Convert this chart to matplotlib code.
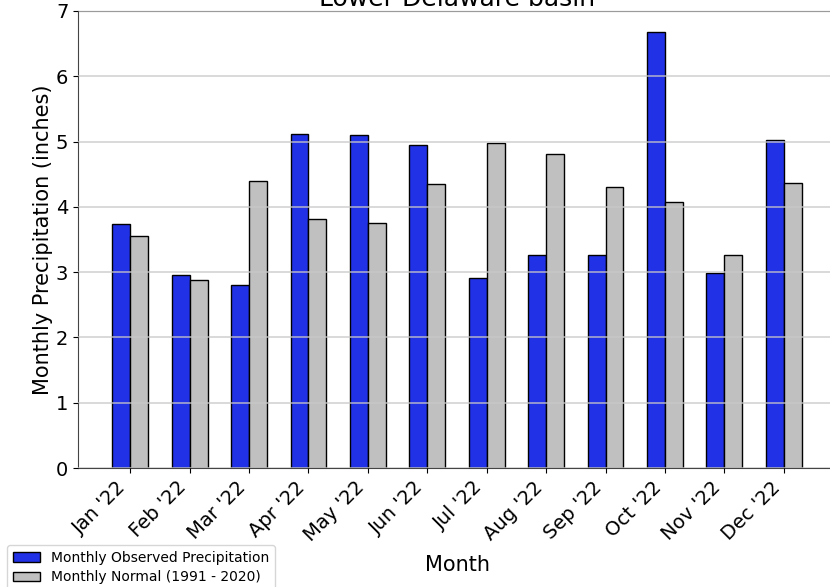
import matplotlib
matplotlib.use("Agg")
import matplotlib.pyplot as plt
import numpy as np

months = ["Jan '22", "Feb '22", "Mar '22", "Apr '22", "May '22", "Jun '22",
          "Jul '22", "Aug '22", "Sep '22", "Oct '22", "Nov '22", "Dec '22"]
observed = [3.73, 2.95, 2.81, 5.11, 5.10, 4.95, 2.91, 3.26, 3.26, 6.68, 2.99, 5.02]
normal = [3.55, 2.88, 4.40, 3.81, 3.76, 4.35, 4.98, 4.81, 4.31, 4.07, 3.26, 4.37]

fig = plt.figure(figsize=(8.3, 5.87), dpi=100)
ax = fig.add_axes([78 / 830, 119 / 587, 758 / 830, 457 / 587])

x = np.arange(len(months))
w = 0.3
ax.bar(x - w / 2, observed, w, color="#2131e5", edgecolor="black",
       linewidth=1, label="Monthly Observed Precipitation")
ax.bar(x + w / 2, normal, w, color="#c0c0c0", edgecolor="black",
       linewidth=1, label="Monthly Normal (1991 - 2020)")

ax.set_ylim(0, 7)
ax.set_yticks(range(8))
ax.set_xticks(x)
ax.set_xticklabels(months, rotation=45, ha="right")
ax.tick_params(labelsize=14)
ax.yaxis.grid(True, color="#c8c8c8", alpha=0.8, linewidth=1.2)
ax.set_axisbelow(False)
for s in ax.spines.values():
    s.set_color("#444444")

ax.set_xlabel("Month", fontsize=15, labelpad=7)
ax.set_ylabel("Monthly Precipitation (inches)", fontsize=15, labelpad=2)
ax.set_title("Lower Delaware basin", fontsize=18, pad=3)

fig.legend(loc="upper left", bbox_to_anchor=(0.0, 0.083),
           bbox_transform=fig.transFigure, fontsize=10,
           labelspacing=0.4)

fig.savefig("out.png", dpi=100)
